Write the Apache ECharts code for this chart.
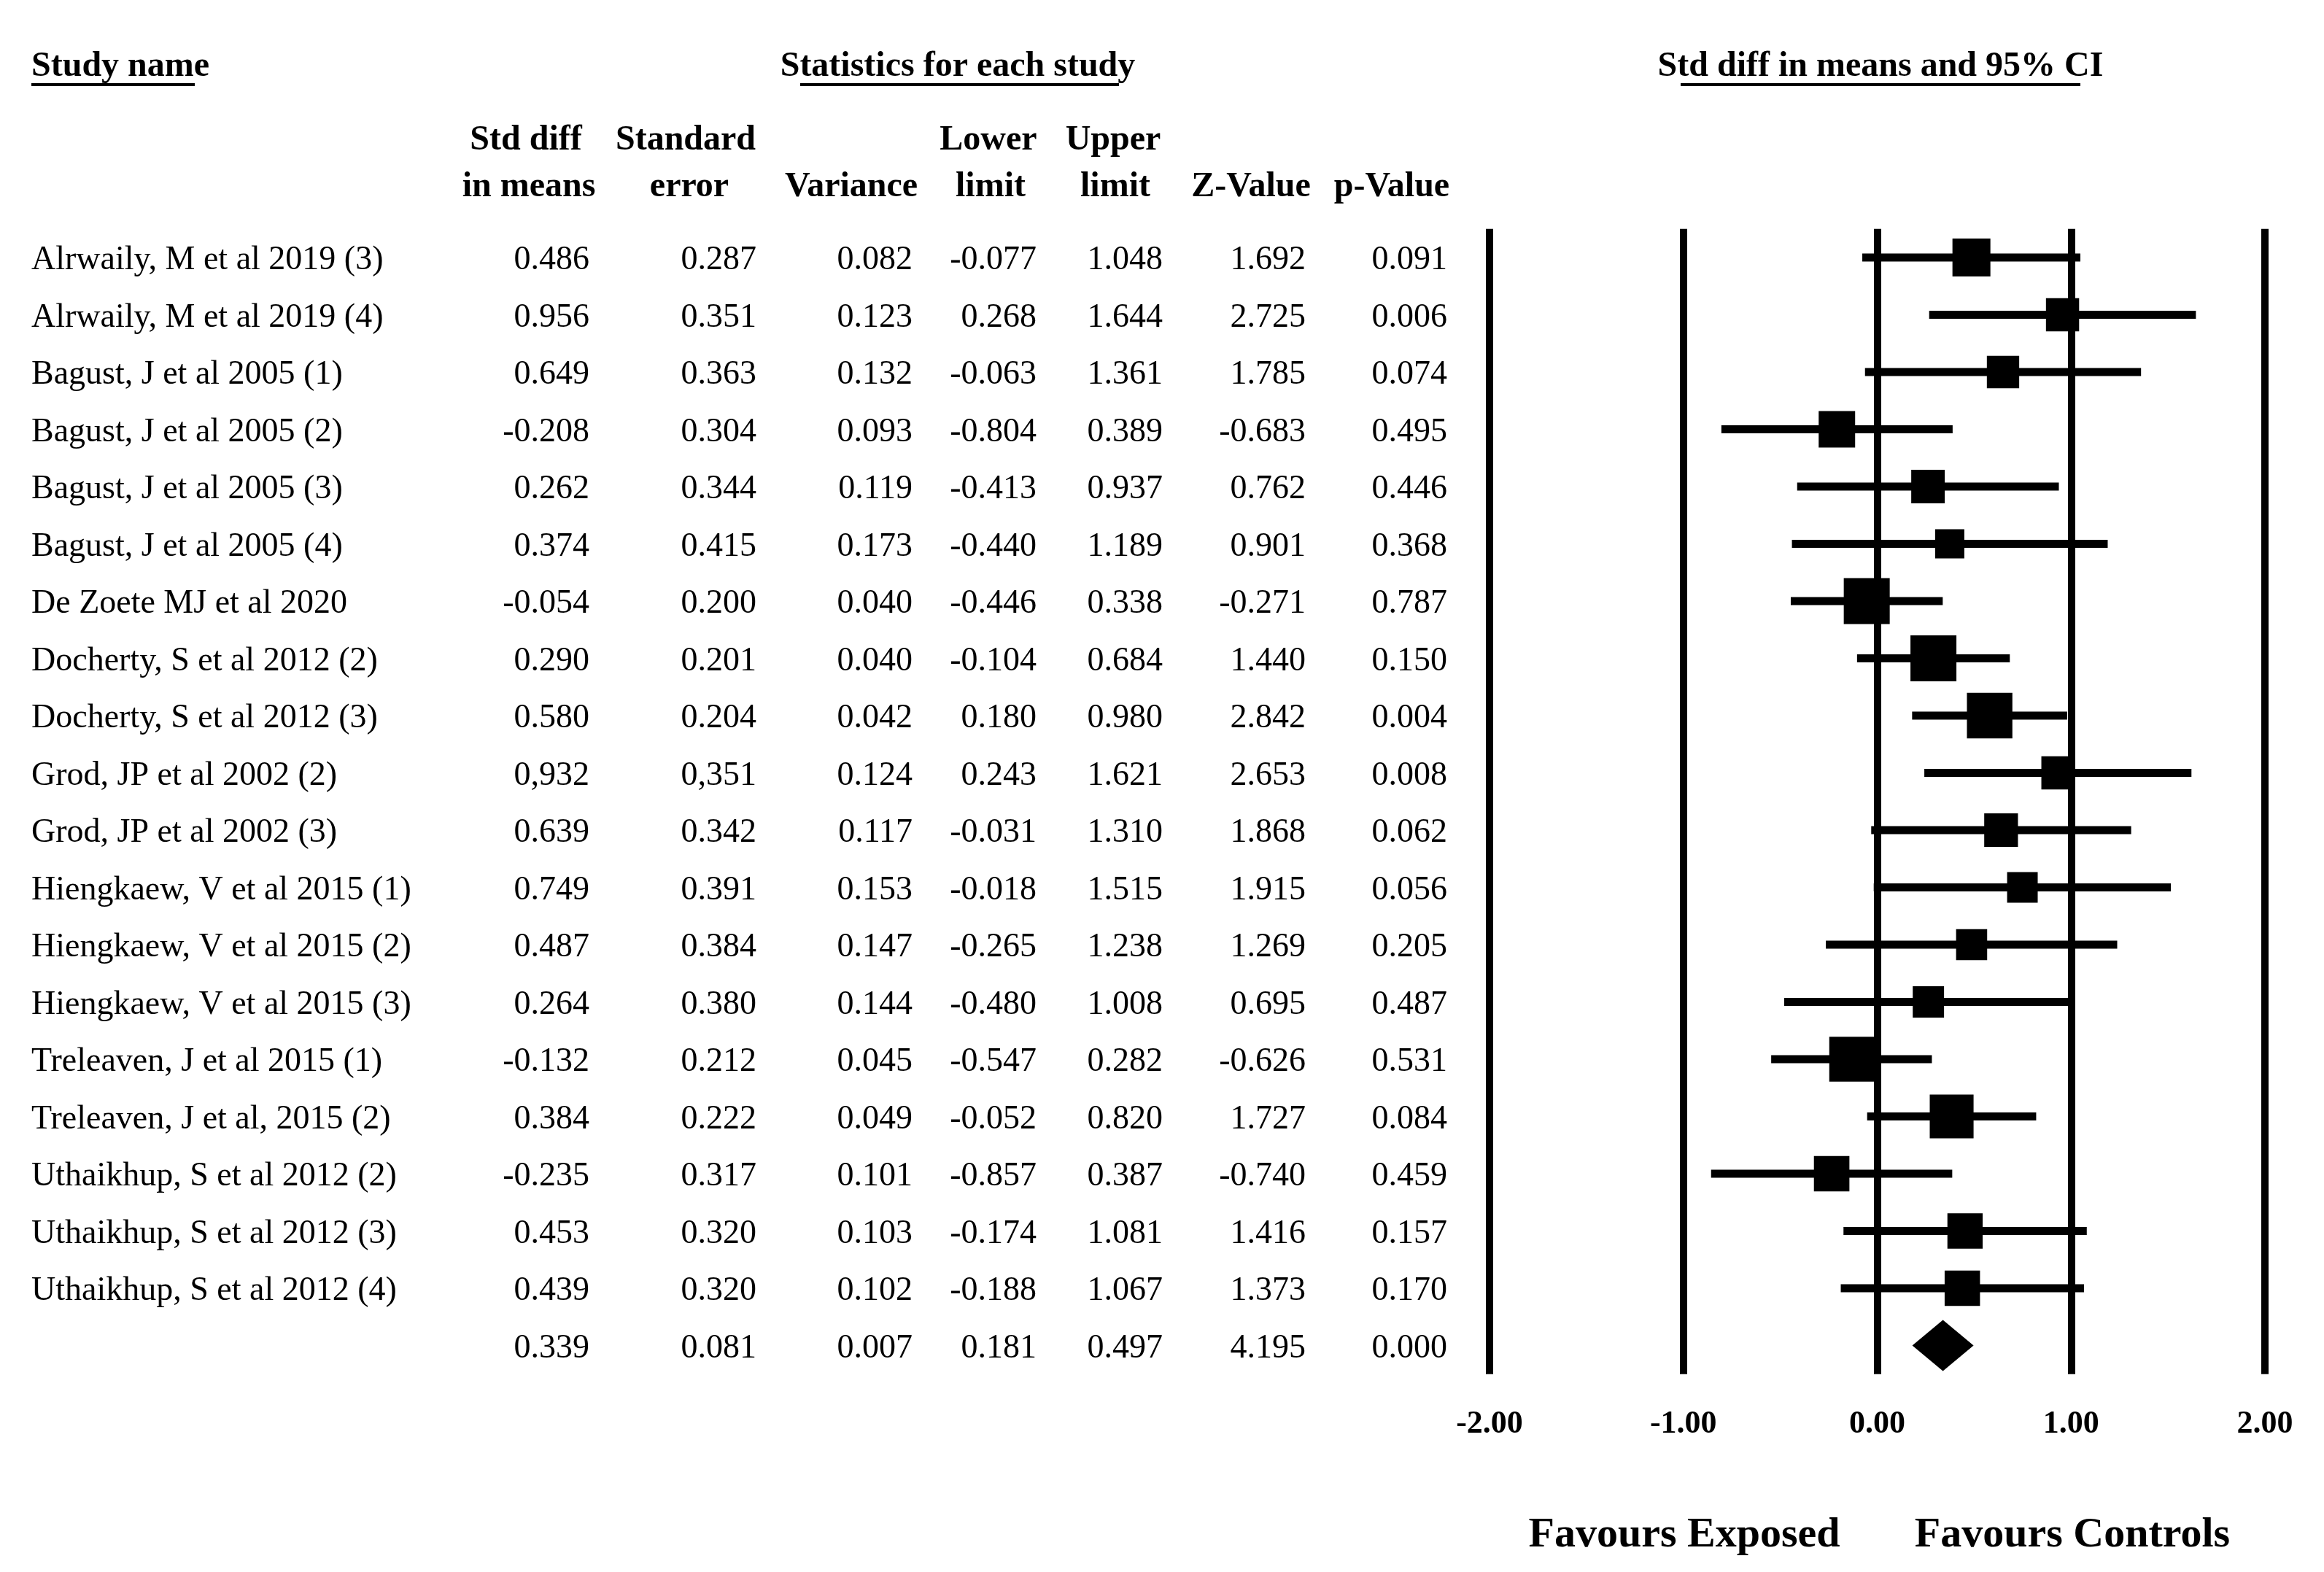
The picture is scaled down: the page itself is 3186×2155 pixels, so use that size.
<!DOCTYPE html>
<html><head><meta charset="utf-8">
<script src="https://cdn.jsdelivr.net/npm/echarts/dist/echarts.min.js"></script>
<style>html,body{margin:0;padding:0;background:#fff}#c{width:3186px;height:2155px}</style>
</head><body><div id="c"></div>
<script>
// ---- data ----
const studyNames = [
  'Alrwaily, M et al 2019 (3)', 'Alrwaily, M et al 2019 (4)',
  'Bagust, J et al 2005 (1)', 'Bagust, J et al 2005 (2)', 'Bagust, J et al 2005 (3)', 'Bagust, J et al 2005 (4)',
  'De Zoete MJ et al 2020', 'Docherty, S et al 2012 (2)', 'Docherty, S et al 2012 (3)',
  'Grod, JP et al 2002 (2)', 'Grod, JP et al 2002 (3)',
  'Hiengkaew, V et al 2015 (1)', 'Hiengkaew, V et al 2015 (2)', 'Hiengkaew, V et al 2015 (3)',
  'Treleaven, J et al 2015 (1)', 'Treleaven, J et al, 2015 (2)',
  'Uthaikhup, S et al 2012 (2)', 'Uthaikhup, S et al 2012 (3)', 'Uthaikhup, S et al 2012 (4)'
];
const stdDiff   = ['0.486','0.956','0.649','-0.208','0.262','0.374','-0.054','0.290','0.580','0,932','0.639','0.749','0.487','0.264','-0.132','0.384','-0.235','0.453','0.439'];
const stdErr    = ['0.287','0.351','0.363','0.304','0.344','0.415','0.200','0.201','0.204','0,351','0.342','0.391','0.384','0.380','0.212','0.222','0.317','0.320','0.320'];
const variance  = ['0.082','0.123','0.132','0.093','0.119','0.173','0.040','0.040','0.042','0.124','0.117','0.153','0.147','0.144','0.045','0.049','0.101','0.103','0.102'];
const lowerLim  = ['-0.077','0.268','-0.063','-0.804','-0.413','-0.440','-0.446','-0.104','0.180','0.243','-0.031','-0.018','-0.265','-0.480','-0.547','-0.052','-0.857','-0.174','-0.188'];
const upperLim  = ['1.048','1.644','1.361','0.389','0.937','1.189','0.338','0.684','0.980','1.621','1.310','1.515','1.238','1.008','0.282','0.820','0.387','1.081','1.067'];
const zValue    = ['1.692','2.725','1.785','-0.683','0.762','0.901','-0.271','1.440','2.842','2.653','1.868','1.915','1.269','0.695','-0.626','1.727','-0.740','1.416','1.373'];
const pValue    = ['0.091','0.006','0.074','0.495','0.446','0.368','0.787','0.150','0.004','0.008','0.062','0.056','0.205','0.487','0.531','0.084','0.459','0.157','0.170'];
const summary   = { stdDiff:'0.339', stdErr:'0.081', variance:'0.007', lower:'0.181', upper:'0.497', z:'4.195', p:'0.000' };
const xTickValues = [-2, -1, 0, 1, 2];

// ---- helpers / layout ----
const num = s => parseFloat(String(s).replace(',', '.'));
const FONT = '"Liberation Serif", "Times New Roman", serif';
const nRows = studyNames.length + 1;     // + summary row
const ROW_H = 78.5;
const GRID_TOP = 313.75;
const TEXT_DY = 4;                        // optical baseline correction for table text
const colRight = [808, 1037, 1251, 1421, 1594, 1790, 1984];
const nameLeft = 43;

const columns = [stdDiff, stdErr, variance, lowerLim, upperLim, zValue, pValue];
const sumCols = [summary.stdDiff, summary.stdErr, summary.variance, summary.lower, summary.upper, summary.z, summary.p];

function textSeries(texts, xAnchor, align) {
  return {
    type: 'custom', xAxisIndex: 1, yAxisIndex: 1, silent: true, animation: false, clip: false,
    data: texts.map((t, i) => [xAnchor, i]),
    encode: { x: 0, y: 1 },
    renderItem: (params, api) => {
      const p = api.coord([api.value(0), api.value(1)]);
      return { type: 'text', x: p[0], y: p[1] + TEXT_DY,
        style: { text: texts[params.dataIndex], fill: '#000', font: '46px ' + FONT,
                 align: align, verticalAlign: 'middle', textAlign: align, textVerticalAlign: 'middle' } };
    }
  };
}

const tableSeries = [textSeries(studyNames, nameLeft, 'left')];
columns.forEach((col, k) => tableSeries.push(textSeries(col.concat([sumCols[k]]), colRight[k], 'right')));

const forestData = studyNames.map((n, i) => [num(lowerLim[i]), num(upperLim[i]), num(stdDiff[i]), num(variance[i]), i]);
const summaryData = [[num(summary.lower), num(summary.upper), num(summary.stdDiff), studyNames.length]];

function hdr(text, x, y, align, size) {
  return { type: 'text', x: x, y: y, silent: true,
    style: { text: text, fill: '#000', font: 'bold ' + (size || 48) + 'px ' + FONT,
             align: align || 'center', verticalAlign: 'middle', textAlign: align || 'center', textVerticalAlign: 'middle' } };
}
function uline(x1, x2, y) {
  return { type: 'line', silent: true, shape: { x1: x1, y1: y, x2: x2, y2: y }, style: { stroke: '#000', lineWidth: 4 } };
}

const chart = echarts.init(document.getElementById('c'), null, { renderer: 'canvas' });
chart.setOption({
  backgroundColor: '#fff',
  animation: false,
  grid: [
    { left: 2042, width: 1063, top: GRID_TOP, height: ROW_H * nRows },
    { left: 0, width: 3186, top: GRID_TOP, height: ROW_H * nRows }
  ],
  xAxis: [
    { type: 'value', gridIndex: 0, min: xTickValues[0], max: xTickValues[xTickValues.length - 1], interval: 1,
      axisLine: { show: false }, axisTick: { show: false },
      splitLine: { show: true, showMinLine: true, showMaxLine: true, lineStyle: { color: '#000', width: 10 } },
      axisLabel: { show: true, margin: 47, color: '#000', fontFamily: FONT, fontWeight: 'bold', fontSize: 44,
                   formatter: v => v.toFixed(2) } },
    { type: 'value', gridIndex: 1, min: 0, max: 3186, show: false }
  ],
  yAxis: [
    { type: 'value', gridIndex: 0, min: -0.5, max: nRows - 0.5, inverse: true, show: false },
    { type: 'value', gridIndex: 1, min: -0.5, max: nRows - 0.5, inverse: true, show: false }
  ],
  graphic: [
    hdr('Study name', 43, 92, 'left'),
    uline(43, 267, 116),
    hdr('Statistics for each study', 1313, 92),
    uline(1097, 1534, 116),
    hdr('Std diff in means and 95% CI', 2578, 92),
    uline(2304, 2852, 116),
    hdr('Std diff', 721, 193), hdr('in means', 725, 257),
    hdr('Standard', 940, 193), hdr('error', 945, 257),
    hdr('Variance', 1167, 257),
    hdr('Lower', 1355, 193), hdr('limit', 1358, 257),
    hdr('Upper', 1526, 193), hdr('limit', 1529, 257),
    hdr('Z-Value', 1715, 257),
    hdr('p-Value', 1908, 257),
    hdr('Favours Exposed', 2309, 2105, 'center', 58),
    hdr('Favours Controls', 2841, 2105, 'center', 58)
  ],
  series: [
    {
      type: 'custom', xAxisIndex: 0, yAxisIndex: 0, silent: true, clip: false,
      data: forestData, encode: { x: [0, 1, 2], y: 4 },
      renderItem: (params, api) => {
        const row = api.value(4);
        const a = api.coord([api.value(0), row]);
        const b = api.coord([api.value(1), row]);
        const c = api.coord([api.value(2), row]);
        const s = 18.9 * Math.sqrt(1 / (api.value(3) + 0.05));
        return { type: 'group', children: [
          { type: 'line', shape: { x1: a[0], y1: a[1], x2: b[0], y2: b[1] }, style: { stroke: '#000', lineWidth: 11, lineCap: 'butt' } },
          { type: 'rect', shape: { x: c[0] - s / 2, y: c[1] - s / 2, width: s, height: s }, style: { fill: '#000' } }
        ] };
      }
    },
    {
      type: 'custom', xAxisIndex: 0, yAxisIndex: 0, silent: true, clip: false,
      data: summaryData, encode: { x: [0, 1, 2], y: 3 },
      renderItem: (params, api) => {
        const row = api.value(3);
        const l = api.coord([api.value(0), row]);
        const r = api.coord([api.value(1), row]);
        const m = api.coord([api.value(2), row]);
        const h = 35;
        return { type: 'polygon', shape: { points: [[l[0], l[1]], [m[0], m[1] - h], [r[0], r[1]], [m[0], m[1] + h]] },
                 style: { fill: '#000' } };
      }
    }
  ].concat(tableSeries)
});
</script>
</body></html>
